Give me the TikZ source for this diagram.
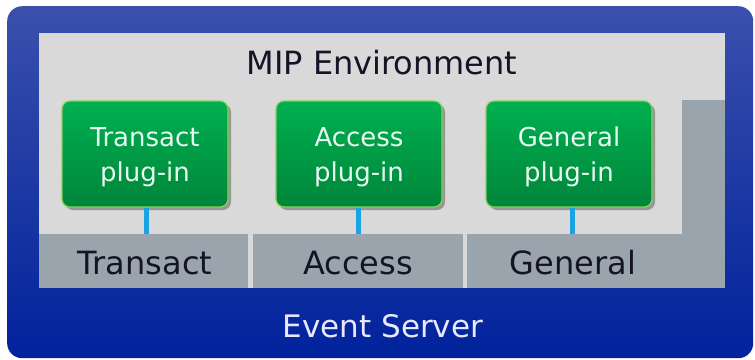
\documentclass[tikz,border=0pt]{standalone}
\usepackage{fontspec}
\setmainfont{DejaVu Sans}
\usetikzlibrary{shadows}
\definecolor{bluetop}{HTML}{3B50AC}
\definecolor{bluebot}{HTML}{00229C}
\definecolor{lgray}{HTML}{D9D9D9}
\definecolor{dgray}{HTML}{9AA4AC}
\definecolor{greentop}{HTML}{00B050}
\definecolor{greenbot}{HTML}{00853A}
\definecolor{greenedge}{HTML}{86D35A}
\definecolor{plugtext}{HTML}{E6FAF2}
\definecolor{conn}{HTML}{1AA3E0}
\definecolor{darktext}{HTML}{141428}
\definecolor{evtext}{HTML}{E8E8FF}
\tikzset{
  plugbox/.style={draw=greenedge, line width=1.2pt, rounded corners=8pt,
    top color=greentop, bottom color=greenbot,
    minimum width=166pt, minimum height=106pt, inner sep=0pt,
    drop shadow={shadow xshift=3pt, shadow yshift=-3pt, opacity=0.3, fill=black}},
  plugtextstyle/.style={text=plugtext, align=center, inner sep=0pt,
    font=\fontsize{26}{35}\selectfont, yshift=-3pt},
  cell/.style={fill=dgray, inner sep=0pt, anchor=north west},
  celltext/.style={text=darktext, anchor=base, font=\fontsize{32}{38}\selectfont},
  connector/.style={draw=conn, line width=5pt}
}
\begin{document}
\begin{tikzpicture}[x=1pt,y=-1pt]
\useasboundingbox (0,0) rectangle (755,359);
% outer blue box
\node[inner sep=0pt, rounded corners=15pt, top color=bluetop, bottom color=bluebot,
  minimum width=746pt, minimum height=352pt, anchor=north west] (server) at (7,6) {};
% environment panel
\node[fill=lgray, inner sep=0pt, minimum width=686pt, minimum height=255pt, anchor=north west] (env) at (39,33) {};
% right column
\node[cell, minimum width=43pt, minimum height=134pt] (col) at (682,100) {};
% bottom cells
\node[cell, minimum width=209pt, minimum height=54pt] (cellT) at (39,234) {};
\node[cell, minimum width=210pt, minimum height=54pt] (cellA) at (253,234) {};
\node[cell, minimum width=258pt, minimum height=54pt] (cellG) at (467,234) {};
% labels
\node[text=darktext, anchor=base, font=\fontsize{32}{38}\selectfont] (envlabel) at (382,74) {MIP Environment};
\node[text=evtext, anchor=base, font=\fontsize{31}{38}\selectfont] (evlabel) at (383,337) {Event Server};
% plug-ins
\node[plugbox] (pT) at (145,154) {};
\node[plugbox] (pA) at (359,154) {};
\node[plugbox] (pG) at (569,154) {};
\node[plugtextstyle] (pTt) at (pT.center) {Transact\\plug-in};
\node[plugtextstyle] (pAt) at (pA.center) {Access\\plug-in};
\node[plugtextstyle] (pGt) at (pG.center) {General\\plug-in};
% connectors
\draw[connector] ([xshift=1pt]pT.south) -- ([xshift=1pt]pT.south |- cellT.north);
\draw[connector] ([xshift=-1pt]pA.south) -- ([xshift=-1pt]pA.south |- cellA.north);
\draw[connector] ([xshift=3pt]pG.south) -- ([xshift=3pt]pG.south |- cellG.north);
% cell labels
\node[celltext] (tT) at (145,274) {Transact};
\node[celltext] (tA) at (358,274) {Access};
\node[celltext] (tG) at (573,274) {General};
\end{tikzpicture}
\end{document}
